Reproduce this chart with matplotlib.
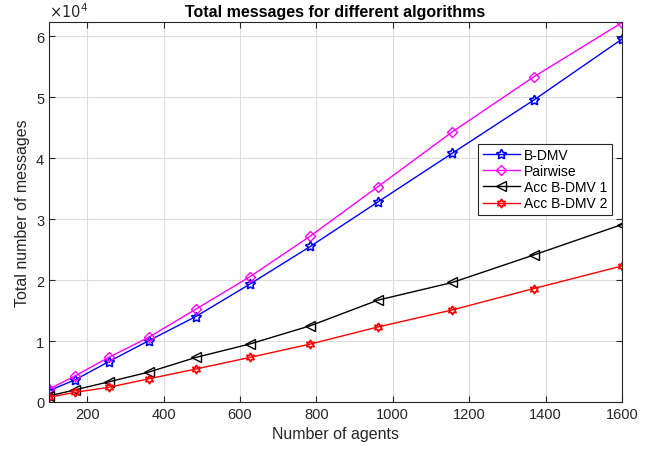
import matplotlib
matplotlib.use("Agg")
import matplotlib.pyplot as plt
from matplotlib.ticker import FuncFormatter

plt.rcParams['font.family'] = ['Liberation Sans', 'DejaVu Sans']

agents = [100, 169, 256, 361, 484, 625, 784, 961, 1156, 1369, 1600]
bdmv = [1850, 3660, 6600, 10050, 14000, 19300, 25500, 32800, 40800, 49500, 59500]
pairwise = [2100, 4300, 7300, 10600, 15200, 20500, 27200, 35300, 44300, 53300, 62200]
acc1 = [1000, 2000, 3300, 4900, 7300, 9500, 12500, 16700, 19600, 24100, 29100]
acc2 = [770, 1600, 2400, 3800, 5400, 7300, 9500, 12300, 15100, 18600, 22300]
labels = ['B-DMV', 'Pairwise', 'Acc B-DMV 1', 'Acc B-DMV 2']
xticks = [200, 400, 600, 800, 1000, 1200, 1400, 1600]
yticks = [0, 10000, 20000, 30000, 40000, 50000, 60000]

fig = plt.figure(figsize=(6.56, 4.56), dpi=100)
ax = fig.add_axes([49/656, 1-403/456, (622-49)/656, (403-23)/456])

gc = '#262626'
ax.plot(agents, bdmv, color='blue', marker=(5, 1, 0), ms=7.5, mfc='none', mew=1.2, lw=1, label=labels[0])
ax.plot(agents, pairwise, color='magenta', marker='D', ms=5.5, mfc='none', lw=1, label=labels[1])
ax.plot(agents, acc1, color='black', marker='<', ms=6.5, mfc='none', lw=1, label=labels[2])
ax.plot(agents, acc2, color='red', marker=(6, 1, 0), ms=6.5, mfc='none', mew=1.2, lw=1, label=labels[3])

ax.set_xlim(100, 1600)
ax.set_ylim(0, 62300)
ax.set_xticks(xticks)
ax.set_yticks(yticks)
ax.yaxis.set_major_formatter(FuncFormatter(lambda v, p: f"{v/1e4:g}"))
ax.grid(True, color='#dcdcdc', lw=0.8)
ax.set_axisbelow(True)
ax.tick_params(direction='in', top=True, right=True, labelsize=10.5, colors=gc, length=4)
for s in ax.spines.values():
    s.set_color(gc)
    s.set_linewidth(0.8)

ax.set_xlabel('Number of agents', fontsize=11.5, color=gc)
ax.set_ylabel('Total number of messages', fontsize=11.5, color=gc)
ax.set_title('Total messages for different algorithms', fontsize=11.5, fontweight='bold', pad=4)
ax.text(0.0, 1.005, r'$\times10^{4}$', transform=ax.transAxes, fontsize=10.5, color=gc,
        ha='left', va='bottom')

leg = ax.legend(loc='upper right', bbox_to_anchor=(0.9825, 0.679), fontsize=10,
                fancybox=False, edgecolor=gc, framealpha=1, borderaxespad=0,
                handlelength=2.7, labelspacing=0.15, borderpad=0.3, handletextpad=0.3)
leg.get_frame().set_linewidth(0.8)

fig.savefig('out.png', dpi=100)
